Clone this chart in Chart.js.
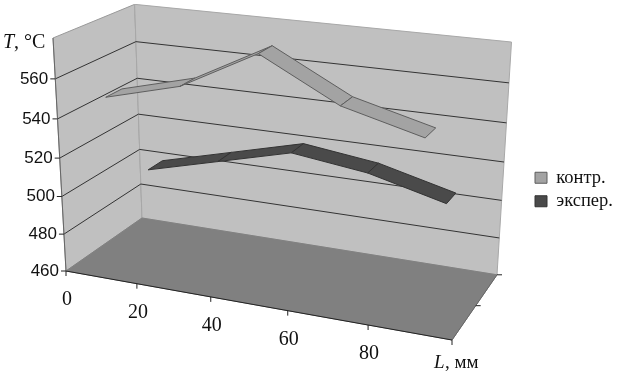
<!DOCTYPE html>
<html>
<head>
<meta charset="utf-8">
<title>T(L)</title>
<style>
  html, body { margin: 0; padding: 0; background: #fff; }
  canvas { display: block; }
</style>
<script src="https://cdn.jsdelivr.net/npm/chart.js@4/dist/chart.umd.min.js"></script>
</head>
<body>
<canvas id="chart" width="618" height="375"></canvas>
<script>
/* ------------------------------------------
 * DATA
 * ------------------------------------------ */
const lengthLabels = [0, 20, 40, 60, 80];
const contrValues = [550, 560, 580, 560, 550];
const experValues = [500, 510, 520, 515, 505];
const tempTicks = [460, 480, 500, 520, 540, 560];
const tempGrid = [480, 500, 520, 540, 560];
const seriesNames = ["контр.", "экспер."];

/* ------------------------------------------
 * 3D BOX -> SCREEN PROJECTION
 * x along L, y along T, z into the page, all 0..1
 * ------------------------------------------ */
const TEMP_MIN = 460;
const TEMP_MAX = 580;
const O = [66, 271];
const PX = [452, 340];
const PY = [53, 38];
const PZ = [142, 218];
const PERSP = [-0.1, -0.06, 0.1];

const project = (x, y, z) => {
  const w = 1 + PERSP[0] * x + PERSP[1] * y + PERSP[2] * z;
  const at = i =>
    (O[i] +
      x * ((1 + PERSP[0]) * PX[i] - O[i]) +
      y * ((1 + PERSP[1]) * PY[i] - O[i]) +
      z * ((1 + PERSP[2]) * PZ[i] - O[i])) / w;
  return { x: at(0), y: at(1) };
};
const tempToY = t => (t - TEMP_MIN) / (TEMP_MAX - TEMP_MIN);
const catToX = i => (i + 0.5) / lengthLabels.length;
const tickToX = i => i / lengthLabels.length;

/* ------------------------------------------
 * DATASET HELPERS
 * ------------------------------------------ */
const shape = (corners, fillColor, edgeColor, order, width = 1) => ({
  data: corners.concat(corners[0]),
  showLine: true,
  fill: "shape",
  backgroundColor: fillColor,
  borderColor: edgeColor,
  borderWidth: width,
  order
});

const polyline = (points, color, order, width = 1) => ({
  data: points,
  showLine: true,
  fill: false,
  borderColor: color,
  backgroundColor: color,
  borderWidth: width,
  order
});

// one flat quad per segment of a ribbon
const ribbon = (values, z0, z1, fillColor, edgeColor, order, label) =>
  values.slice(0, -1).map((v, i) => {
    const next = values[i + 1];
    const quad = shape([
      project(catToX(i), tempToY(v), z0),
      project(catToX(i + 1), tempToY(next), z0),
      project(catToX(i + 1), tempToY(next), z1),
      project(catToX(i), tempToY(v), z1)
    ], fillColor, edgeColor, order - i);
    if (i === 0) quad.label = label;
    return quad;
  });

const datasets = [
  ...ribbon(contrValues, 0.15, 0.35, "#a3a3a3", "#5e5e5e", 20, seriesNames[0]),
  ...ribbon(experValues, 0.65, 0.85, "#4a4a4a", "#333333", 40, seriesNames[1]),
  // grid lines run along the left wall, then the back wall
  ...tempGrid.map(t =>
    polyline([
      project(0, tempToY(t), 0),
      project(0, tempToY(t), 1),
      project(1, tempToY(t), 1)
    ], "#333333", 50)
  ),
  shape([project(0, 0, 0), project(1, 0, 0), project(1, 0, 1), project(0, 0, 1)], "#808080", "#808080", 60),
  shape([project(0, 0, 1), project(1, 0, 1), project(1, 1, 1), project(0, 1, 1)], "#c0c0c0", "#a8a8a8", 70),
  shape([project(0, 0, 0), project(0, 0, 1), project(0, 1, 1), project(0, 1, 0)], "#c0c0c0", "#9a9a9a", 71),
  polyline([project(0, 0, 0), project(0, 1, 0)], "#666666", 45),
  polyline([project(0, 0, 0), project(1, 0, 0)], "#222222", 45),
  polyline([project(1, 0, 0), project(1, 0, 1)], "#666666", 45)
];

/* ------------------------------------------
 * AXIS TICKS AND LABELS
 * ------------------------------------------ */
const axisLabels = {
  id: "axisLabels",
  afterDatasetsDraw(chart) {
    const { ctx, scales } = chart;
    const toPx = p => ({ x: scales.x.getPixelForValue(p.x), y: scales.y.getPixelForValue(p.y) });
    const tick = (p, dx, dy) => {
      ctx.beginPath();
      ctx.moveTo(p.x, p.y);
      ctx.lineTo(p.x + dx, p.y + dy);
      ctx.stroke();
    };

    ctx.save();
    ctx.strokeStyle = "#222";
    ctx.lineWidth = 1;
    ctx.fillStyle = "#111";

    ctx.font = "17px 'Liberation Sans'";
    ctx.textAlign = "right";
    ctx.textBaseline = "middle";
    tempTicks.forEach(t => {
      const p = toPx(project(0, tempToY(t), 0));
      tick(p, -5, 0);
      ctx.fillText(String(t), p.x - 7, p.y);
    });

    ctx.font = "20px 'Liberation Serif'";
    ctx.textAlign = "center";
    lengthLabels.forEach((label, i) => {
      const p = toPx(project(tickToX(i), 0, 0));
      tick(p, 0, 5);
      ctx.fillText(String(label), p.x + 1, p.y + 29);
    });
    tick(toPx(project(1, 0, 0)), 0, 5);
    tick(toPx(project(1, 0, 0.5)), 5, 0);
    tick(toPx(project(1, 0, 1)), 5, 0);

    const end = toPx(project(1, 0, 0));
    ctx.textAlign = "left";
    ctx.font = "italic 19px 'Liberation Serif'";
    ctx.fillText("L", end.x - 18, end.y + 23);
    ctx.font = "19px 'Liberation Serif'";
    ctx.fillText(", мм", end.x - 7, end.y + 23);

    const top = toPx(project(0, 1, 0));
    ctx.font = "italic 20px 'Liberation Serif'";
    ctx.fillText("T", top.x - 50, top.y + 5);
    ctx.font = "20px 'Liberation Serif'";
    ctx.fillText(", °C", top.x - 39, top.y + 5);
    ctx.restore();
  }
};

/* ------------------------------------------
 * CHART
 * ------------------------------------------ */
new Chart(document.getElementById("chart"), {
  type: "scatter",
  data: { datasets },
  plugins: [axisLabels],
  options: {
    responsive: false,
    animation: false,
    events: [],
    layout: { padding: { top: 4 } },
    elements: { point: { radius: 0 }, line: { tension: 0 } },
    scales: {
      x: { display: false, min: 0, max: 530 },
      y: { display: false, min: 4, max: 375, reverse: true }
    },
    plugins: {
      tooltip: { enabled: false },
      legend: {
        position: "right",
        maxWidth: 88,
        labels: {
          boxWidth: 12,
          boxHeight: 11,
          padding: 5,
          color: "#111",
          font: { family: "'Liberation Serif'", size: 18.5 },
          filter: item => Boolean(item.text)
        }
      }
    }
  }
});
</script>
</body>
</html>
